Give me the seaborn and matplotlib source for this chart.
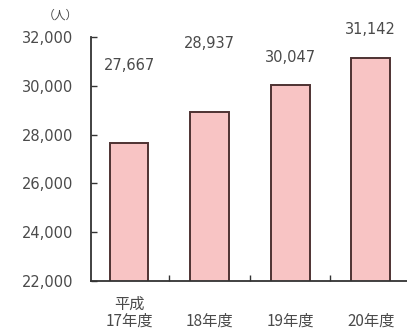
import matplotlib
matplotlib.use("Agg")
import matplotlib.pyplot as plt
import seaborn as sns
import pandas as pd

# data
years = ["平成\n17年度", "18年度", "19年度", "20年度"]
counts = [27667, 28937, 30047, 31142]
label_offsets = [50, 44, 14, 15]  # label height above bar top (points)
yticks = [22000, 24000, 26000, 28000, 30000, 32000]

sns.set_theme(style="white")
plt.rcParams['font.family'] = ['DejaVu Sans', 'Noto Sans CJK JP']
text_color = '#4a4a4a'

df = pd.DataFrame({"year": years, "count": counts})

fig = plt.figure(figsize=(4.07, 3.36), dpi=100, facecolor='white')
ax = fig.add_axes([0.224, 0.164, 0.776, 0.726])

sns.barplot(data=df, x="year", y="count", ax=ax, color='#f8c4c4',
            edgecolor='#4e3232', linewidth=1.4, width=0.48, saturation=1)

for i, (v, off) in enumerate(zip(counts, label_offsets)):
    ax.annotate(f"{v:,}", (i, v), xytext=(0, off), textcoords='offset points',
                ha='center', va='bottom', fontsize=10.5, color=text_color)

ax.set_ylim(22000, 32000)
ax.set_xlim(-0.47, 3.45)
ax.set_yticks(yticks)
ax.set_yticklabels([f"{t:,}" for t in yticks], fontsize=10.5, color=text_color)
ax.tick_params(axis='y', direction='in', length=4, width=1, color='#333333', pad=13, left=True)
ax.tick_params(axis='x', length=0, pad=35, labelcolor=text_color)
ax.set_xticks([0.5, 1.5, 2.5], minor=True)
ax.tick_params(axis='x', which='minor', direction='in', length=4, width=1, color='#333333', bottom=True)
for lbl in ax.get_xticklabels():
    lbl.set_fontfamily(['Noto Sans CJK JP', 'DejaVu Sans'])
    lbl.set_fontsize(11)
    lbl.set_linespacing(1.0)
    lbl.set_verticalalignment('bottom')
ax.set_xlabel("")
ax.set_ylabel("")

for s in ['top', 'right']:
    ax.spines[s].set_visible(False)
for s in ['left', 'bottom']:
    ax.spines[s].set_color('#333333')
    ax.spines[s].set_linewidth(1.3)

fig.text(0.148, 0.955, "（人）", fontsize=8.5, color=text_color, ha='center', va='center',
         family=['Noto Sans CJK JP', 'DejaVu Sans'])

fig.savefig("out.png", dpi=100, facecolor='white')
